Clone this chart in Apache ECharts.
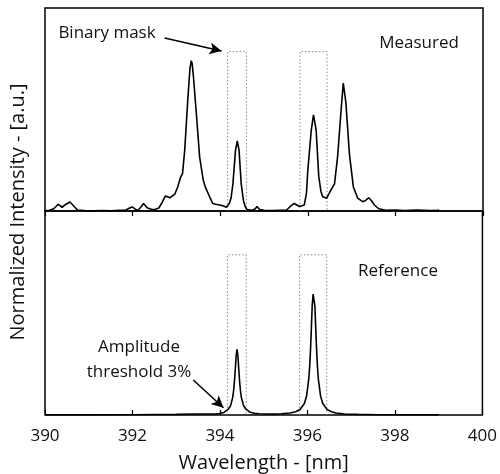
<!DOCTYPE html>
<html>
<head>
<meta charset="utf-8">
<script src="https://cdn.jsdelivr.net/npm/echarts@6/dist/echarts.min.js"></script>
<style>html,body{margin:0;padding:0;background:#fff}#c{width:500px;height:474px}</style>
</head>
<body>
<div id="c"></div>
<script>
// ---- Data ----
var xTicks = [390, 392, 394, 396, 398, 400];
var measX = [390.00,390.10,390.20,390.30,390.39,390.48,390.57,390.65,390.74,390.90,391.10,391.30,391.50,391.70,391.84,391.92,391.99,392.06,392.12,392.20,392.25,392.33,392.44,392.52,392.60,392.68,392.75,392.85,392.96,393.03,393.09,393.14,393.19,393.26,393.31,393.34,393.36,393.39,393.46,393.53,393.61,393.66,393.72,393.78,393.83,393.90,393.99,394.06,394.14,394.21,394.25,394.29,394.35,394.39,394.43,394.48,394.53,394.57,394.61,394.74,394.80,394.84,394.90,395.00,395.20,395.35,395.51,395.60,395.69,395.81,395.92,395.97,396.00,396.08,396.13,396.15,396.19,396.25,396.30,396.34,396.43,396.53,396.61,396.68,396.76,396.81,396.87,396.95,397.04,397.14,397.25,397.32,397.39,397.45,397.52,397.62,397.78,398.00,398.20,398.50,398.80,399.00];
var measY = [0.003,0.005,0.015,0.045,0.025,0.045,0.060,0.035,0.007,0.003,0.002,0.003,0.002,0.004,0.005,0.018,0.027,0.012,0.003,0.030,0.050,0.022,0.010,0.012,0.020,0.060,0.100,0.088,0.110,0.160,0.220,0.250,0.405,0.740,0.950,1.000,0.980,0.890,0.630,0.360,0.210,0.160,0.120,0.080,0.050,0.045,0.040,0.035,0.025,0.050,0.090,0.180,0.405,0.467,0.405,0.180,0.070,0.030,0.010,0.005,0.015,0.030,0.010,0.004,0.003,0.005,0.005,0.030,0.050,0.030,0.040,0.120,0.270,0.540,0.640,0.650,0.540,0.230,0.130,0.095,0.085,0.140,0.180,0.360,0.670,0.850,0.720,0.380,0.160,0.085,0.062,0.070,0.088,0.070,0.040,0.015,0.005,0.006,0.003,0.007,0.003,0.004];
var refX = [390.0,391.0,392.0,393.0,393.5,393.89,393.99,394.09,394.19,394.24,394.29,394.31,394.33,394.35,394.37,394.39,394.41,394.43,394.45,394.47,394.49,394.54,394.59,394.69,394.79,394.89,395.0,395.2,395.4,395.6,395.73,395.83,395.93,395.98,396.03,396.05,396.07,396.09,396.11,396.13,396.15,396.17,396.19,396.21,396.23,396.25,396.30,396.35,396.45,396.55,396.65,396.85,397.15,397.6,398.2,399.0];
var refY = [0.001,0.001,0.002,0.004,0.007,0.007,0.010,0.017,0.039,0.060,0.115,0.157,0.218,0.301,0.392,0.435,0.392,0.301,0.218,0.157,0.115,0.061,0.040,0.018,0.011,0.008,0.007,0.006,0.008,0.013,0.021,0.036,0.076,0.126,0.238,0.318,0.432,0.580,0.731,0.800,0.790,0.720,0.570,0.425,0.313,0.235,0.125,0.076,0.036,0.021,0.013,0.007,0.004,0.002,0.001,0.001];
var maskStart = [394.17, 395.82];
var maskEnd = [394.60, 396.44];
var maskHeight = 1.06;
var yMax = 1.35;

function zip(xs, ys){ return xs.map(function(x,i){ return [x, ys[i]]; }); }
function maskRect(i){ return [[maskStart[i],0],[maskStart[i],maskHeight],[maskEnd[i],maskHeight],[maskEnd[i],0]]; }

var FONT = 'Open Sans';
var chart = echarts.init(document.getElementById('c'), null, {renderer:'canvas'});
var maskStyle = {color:'#8a8a8a', width:1, type:[1.5,2]};
var lineStyle = {color:'#000', width:1.6};

var option = {
  animation:false,
  backgroundColor:'#fff',
  textStyle:{fontFamily:FONT},
  grid:[
    {left:45, right:17, top:8, height:203, show:true, borderColor:'#000', borderWidth:1.5, backgroundColor:'transparent'},
    {left:45, right:17, top:211, height:204, show:true, borderColor:'#000', borderWidth:1.5, backgroundColor:'transparent'}
  ],
  xAxis:[
    {gridIndex:0, type:'value', min:xTicks[0], max:xTicks[xTicks.length-1], interval:2, position:'top',
     axisLine:{show:false}, axisTick:{show:true, inside:true, length:5, lineStyle:{color:'#000', width:1.2}},
     axisLabel:{show:false}, splitLine:{show:false}},
    {gridIndex:1, type:'value', min:xTicks[0], max:xTicks[xTicks.length-1], interval:2, position:'bottom',
     axisLine:{show:false}, axisTick:{show:true, inside:true, length:5, lineStyle:{color:'#000', width:1.2}},
     axisLabel:{show:true, color:'#111', fontSize:17, fontFamily:FONT, margin:13},
     splitLine:{show:false},
     name:'Wavelength - [nm]', nameLocation:'middle', nameGap:38,
     nameTextStyle:{color:'#111', fontSize:20, fontFamily:FONT, verticalAlign:'top'}}
  ],
  yAxis:[
    {gridIndex:0, type:'value', min:0, max:yMax, show:false},
    {gridIndex:1, type:'value', min:0, max:yMax, show:false}
  ],
  series:[
    {type:'line', xAxisIndex:0, yAxisIndex:0, data:maskRect(0), showSymbol:false, lineStyle:maskStyle, silent:true},
    {type:'line', xAxisIndex:0, yAxisIndex:0, data:maskRect(1), showSymbol:false, lineStyle:maskStyle, silent:true},
    {type:'line', xAxisIndex:1, yAxisIndex:1, data:maskRect(0), showSymbol:false, lineStyle:maskStyle, silent:true},
    {type:'line', xAxisIndex:1, yAxisIndex:1, data:maskRect(1), showSymbol:false, lineStyle:maskStyle, silent:true},
    {type:'line', name:'Measured', xAxisIndex:0, yAxisIndex:0, data:zip(measX, measY), showSymbol:false, lineStyle:lineStyle,
     markLine:{silent:true, symbol:['none','arrow'], symbolSize:[9,12], label:{show:false},
       lineStyle:{color:'#000', width:1.5, type:'solid'},
       data:[[{coord:[392.73,1.15]},{coord:[394.03,1.064]}]]}},
    {type:'line', name:'Reference', xAxisIndex:1, yAxisIndex:1, data:zip(refX, refY), showSymbol:false, lineStyle:lineStyle,
     markLine:{silent:true, symbol:['none','arrow'], symbolSize:[9,12], label:{show:false},
       lineStyle:{color:'#000', width:1.5, type:'solid'},
       data:[[{coord:[393.39,0.232]},{coord:[394.08,0.048]}]]}}
  ],
  graphic:[
    {type:'text', x:107, y:33, style:{text:'Binary mask', fill:'#111', font:'17px "Open Sans"', textAlign:'center', textVerticalAlign:'middle'}},
    {type:'text', x:419, y:43, style:{text:'Measured', fill:'#111', font:'17px "Open Sans"', textAlign:'center', textVerticalAlign:'middle'}},
    {type:'text', x:398, y:271, style:{text:'Reference', fill:'#111', font:'17px "Open Sans"', textAlign:'center', textVerticalAlign:'middle'}},
    {type:'text', x:139, y:347, style:{text:'Amplitude', fill:'#111', font:'17px "Open Sans"', textAlign:'center', textVerticalAlign:'middle'}},
    {type:'text', x:139, y:372, style:{text:'threshold 3%', fill:'#111', font:'17px "Open Sans"', textAlign:'center', textVerticalAlign:'middle'}},
    {type:'text', x:18, y:212, rotation:Math.PI/2, style:{text:'Normalized Intensity - [a.u.]', fill:'#111', font:'20px "Open Sans"', textAlign:'center', textVerticalAlign:'middle'}}
  ]
};
chart.setOption(option);
</script>
</body>
</html>
